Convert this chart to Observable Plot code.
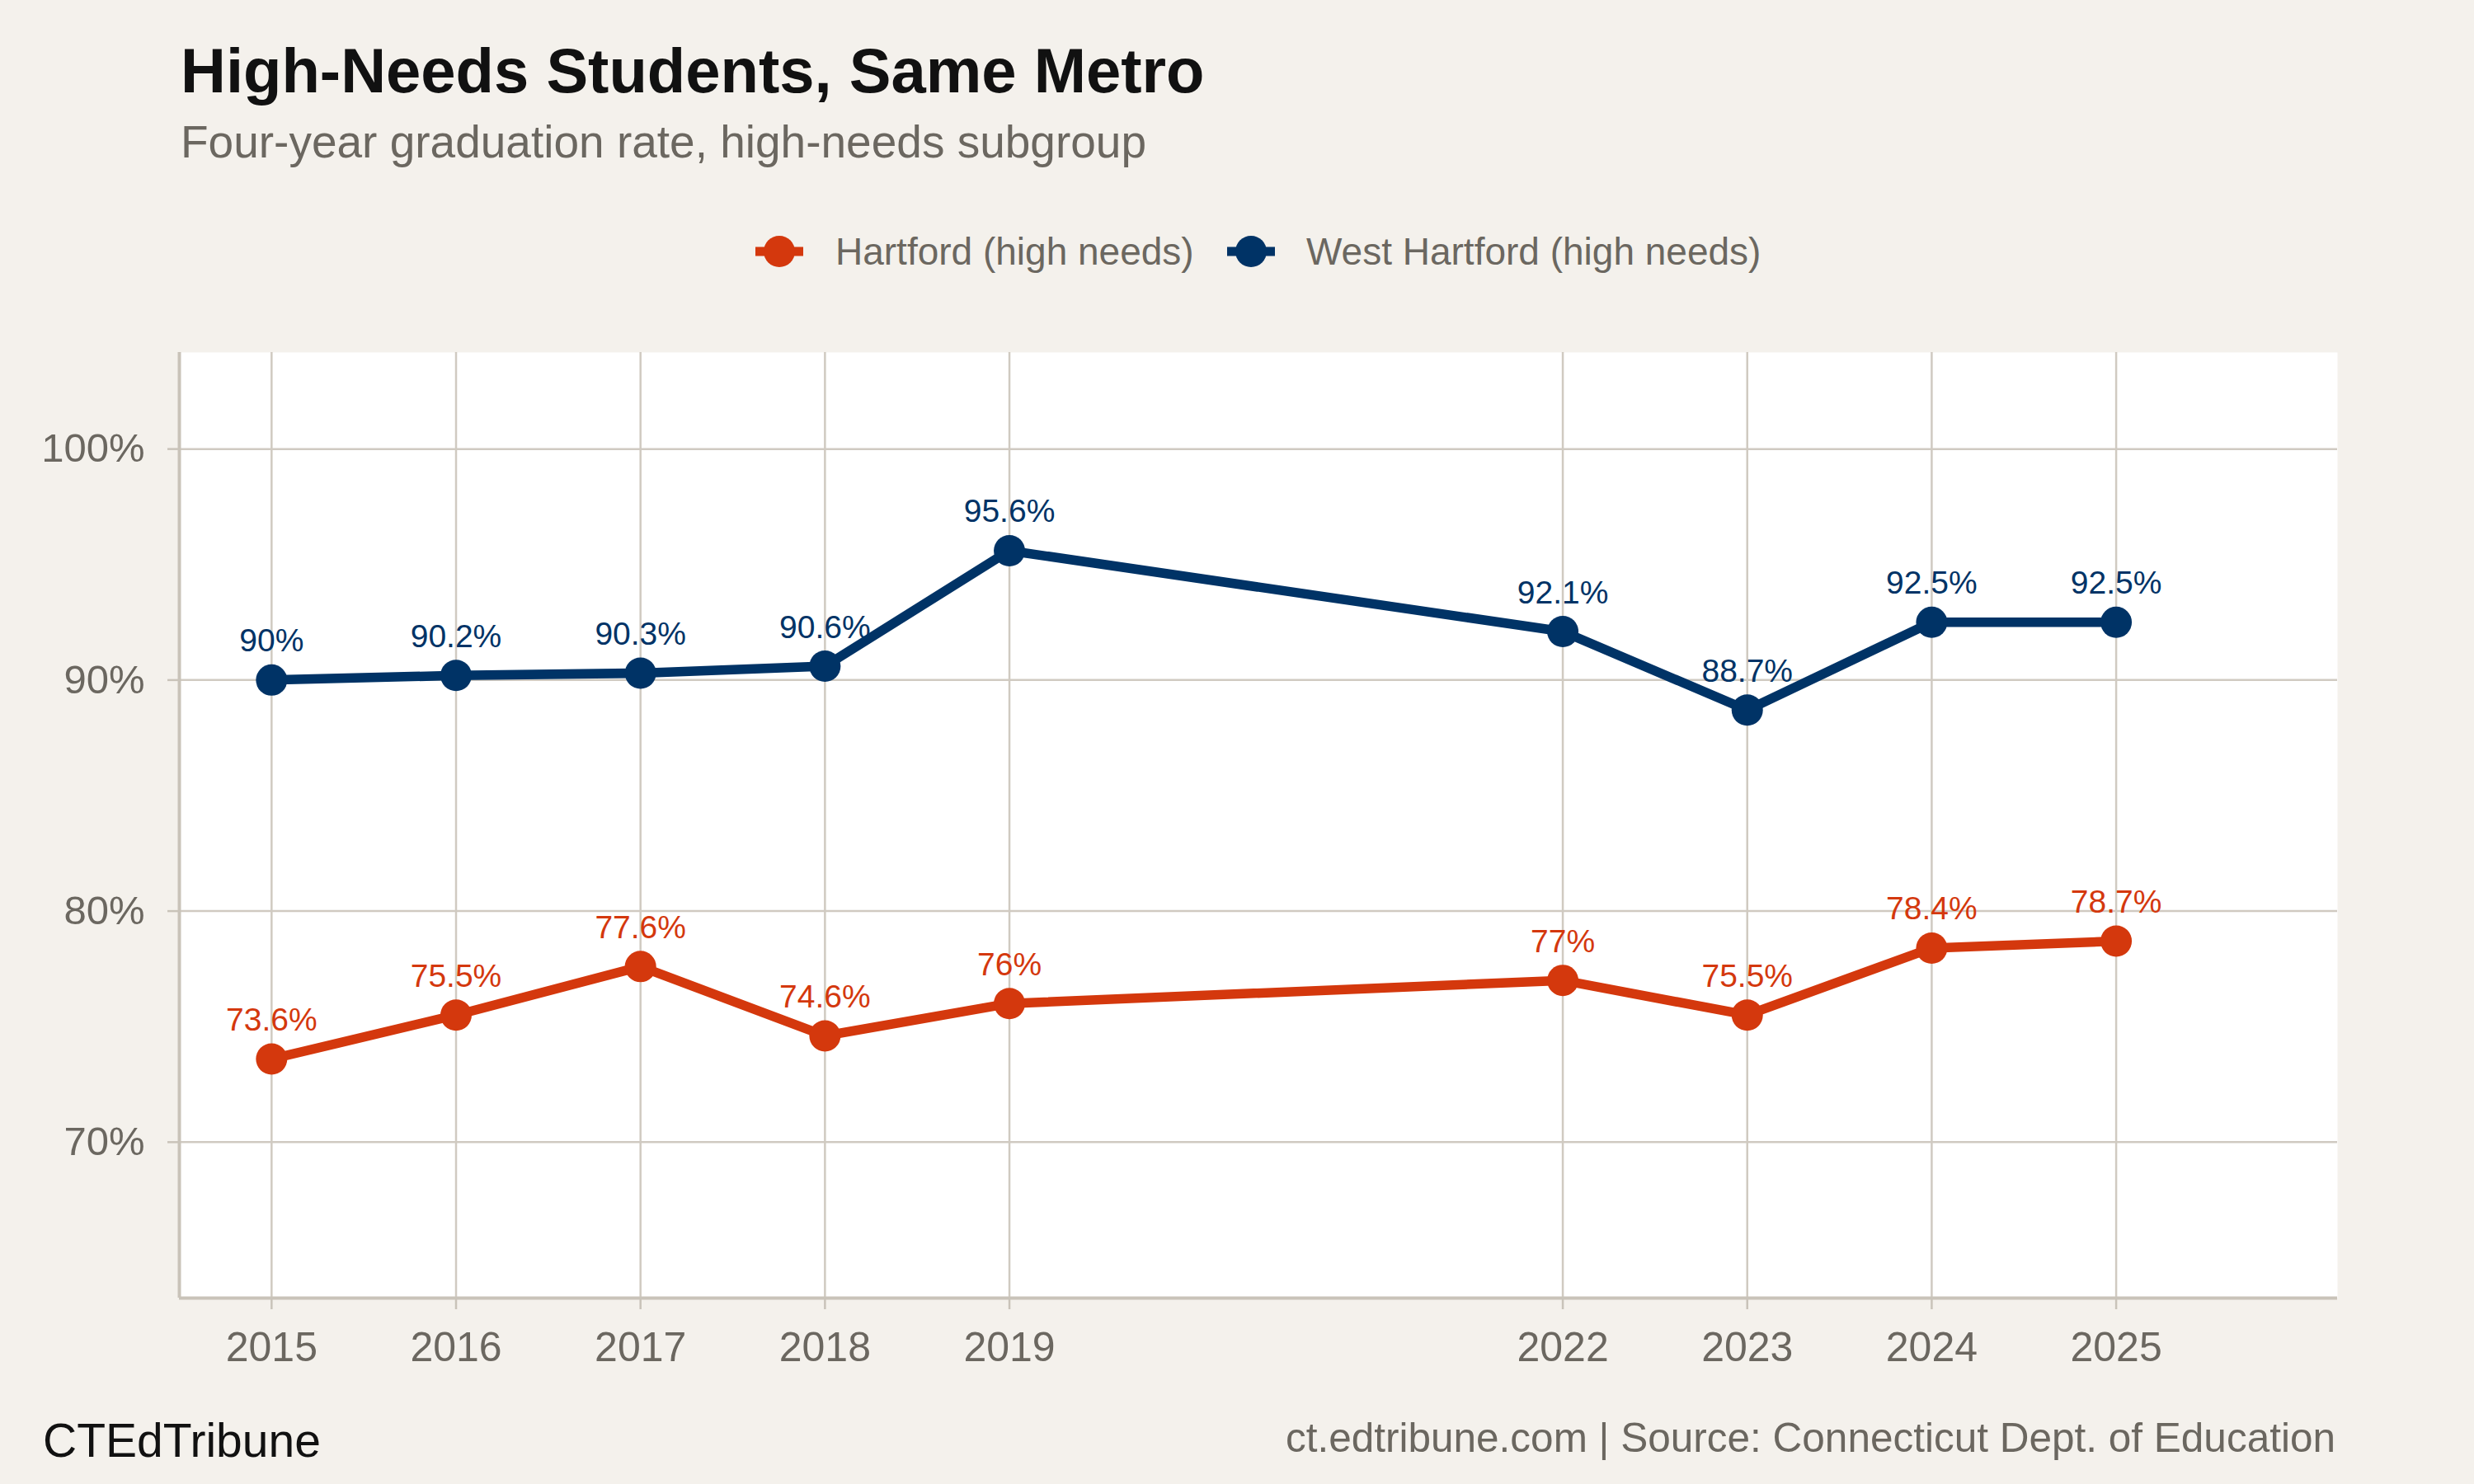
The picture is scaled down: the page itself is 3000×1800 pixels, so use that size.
<!DOCTYPE html>
<html>
<head>
<meta charset="utf-8">
<script src="https://cdn.jsdelivr.net/npm/d3@7"></script>
<script src="https://cdn.jsdelivr.net/npm/@observablehq/plot@0.6"></script>
<style>
  html, body { margin: 0; padding: 0; background: #f4f1ec; }
  #page {
    position: relative; width: 3000px; height: 1800px; background: #f4f1ec;
    font-family: "Liberation Sans", Arial, Helvetica, sans-serif; overflow: hidden;
  }
  .txt { position: absolute; line-height: 1; white-space: nowrap; }
  #title { left: 219px; top: 48px; font-size: 76px; font-weight: bold; color: #111111; }
  #subtitle { left: 219px; top: 145px; font-size: 55px; color: #6b6760; }
  .legend-text { top: 282px; font-size: 46px; color: #6b6760; }
  .legend-key { position: absolute; top: 285px; }
  #chart { position: absolute; left: 0; top: 380px; }
  #brand { left: 52px; top: 1719px; font-size: 57px; color: #111111; }
  #source { right: 168px; top: 1719px; font-size: 49.5px; color: #6b6760; }
</style>
</head>
<body>
<div id="page">
  <div id="title" class="txt">High-Needs Students, Same Metro</div>
  <div id="subtitle" class="txt">Four-year graduation rate, high-needs subgroup</div>
  <div id="legend"></div>
  <div id="chart"></div>
  <div id="brand" class="txt">CTEdTribune</div>
  <div id="source" class="txt">ct.edtribune.com | Source: Connecticut Dept. of Education</div>
</div>
<script>
// Graduation-rate series, one value per reported year
const years = [2015, 2016, 2017, 2018, 2019, 2022, 2023, 2024, 2025];
const hartford = [73.6, 75.5, 77.6, 74.6, 76.0, 77.0, 75.5, 78.4, 78.7];
const westHartford = [90.0, 90.2, 90.3, 90.6, 95.6, 92.1, 88.7, 92.5, 92.5];
const seriesNames = ["Hartford (high needs)", "West Hartford (high needs)"];
const seriesColors = ["#d4380d", "#003366"];
const yTicks = [70, 80, 90, 100];

const gridColor = "#d0cac1";
const axisColor = "#c9c3b9";
const textColor = "#6b6760";

// Long-format table built from the arrays above
const rows = [
  ...years.map((year, i) => ({year, value: hartford[i], series: seriesNames[0]})),
  ...years.map((year, i) => ({year, value: westHartford[i], series: seriesNames[1]}))
];

const xDomain = [2014.5, 2026.2];
const yDomain = [63.25, 104.18];

const chart = Plot.plot({
  width: 3000,
  height: 1320,
  marginTop: 47,
  marginBottom: 126,
  marginLeft: 217,
  marginRight: 166,
  style: {background: "transparent", fontFamily: "'Liberation Sans', Arial, sans-serif"},
  x: {domain: xDomain},
  y: {domain: yDomain},
  color: {domain: seriesNames, range: seriesColors},
  marks: [
    Plot.frame({fill: "white", stroke: null}),
    Plot.gridX(years, {stroke: gridColor, strokeOpacity: 1, strokeWidth: 2.5}),
    Plot.gridY(yTicks, {stroke: gridColor, strokeOpacity: 1, strokeWidth: 2.5}),
    Plot.axisX(years, {
      tickSize: 14, tickPadding: 27, fontSize: 50,
      stroke: axisColor, strokeWidth: 2.5, fill: textColor,
      tickFormat: d => String(d), label: null
    }),
    Plot.axisY(yTicks, {
      tickSize: 14, tickPadding: 28, fontSize: 49,
      stroke: axisColor, strokeWidth: 2.5, fill: textColor,
      tickFormat: d => d + "%", label: null
    }),
    Plot.ruleX([xDomain[0]], {stroke: axisColor, strokeWidth: 4}),
    Plot.ruleY([yDomain[0]], {stroke: axisColor, strokeWidth: 4}),
    Plot.line(rows, {x: "year", y: "value", z: "series", stroke: "series", strokeWidth: 11.5}),
    Plot.dot(rows, {x: "year", y: "value", fill: "series", r: 19}),
    Plot.text(rows, {
      x: "year", y: "value", fill: "series",
      text: d => String(d.value) + "%",
      dy: -47, fontSize: 39
    })
  ]
});
document.getElementById("chart").appendChild(chart);

// Legend: line-and-point key followed by the series name
const legend = document.getElementById("legend");
const keyCenters = [945, 1517];
const textLefts = [1013, 1584];
seriesNames.forEach((name, i) => {
  const key = d3.create("svg")
    .attr("class", "legend-key")
    .attr("width", 60).attr("height", 40)
    .style("left", (keyCenters[i] - 30) + "px");
  key.append("line")
    .attr("x1", 1).attr("x2", 59).attr("y1", 20).attr("y2", 20)
    .attr("stroke", seriesColors[i]).attr("stroke-width", 11);
  key.append("circle")
    .attr("cx", 30).attr("cy", 20).attr("r", 19)
    .attr("fill", seriesColors[i]);
  legend.appendChild(key.node());
  const label = document.createElement("div");
  label.className = "txt legend-text";
  label.style.left = textLefts[i] + "px";
  label.textContent = name;
  legend.appendChild(label);
});
</script>
</body>
</html>
